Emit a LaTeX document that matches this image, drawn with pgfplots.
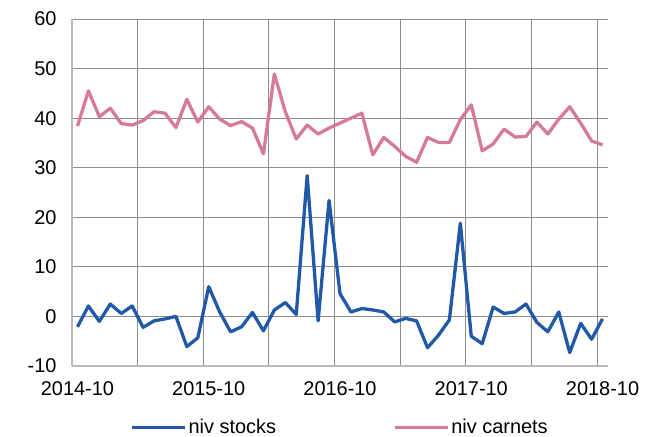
\documentclass[border=0pt]{standalone}
\usepackage{pgfplots}
\pgfplotsset{compat=1.18}
\usepackage{fontspec}
\setmainfont{Liberation Sans}
\definecolor{stockblue}{RGB}{33,89,166}
\definecolor{carnetpink}{RGB}{214,122,153}
\definecolor{gridgray}{RGB}{140,140,140}
\definecolor{axisgray}{RGB}{185,185,185}
\begin{document}
\begin{tikzpicture}
\path[use as bounding box] (-72bp,-71bp) rectangle (580bp,366bp);
\begin{axis}[
  at={(0,0)}, anchor=south west,
  scale only axis,
  width=536bp, height=347bp,
  xmin=-0.5, xmax=48.5,
  ymin=-10, ymax=60,
  xtick={0,12,24,36,48},
  xticklabels={2014-10,2015-10,2016-10,2017-10,2018-10},
  minor xtick={-0.5,5.5,11.5,17.5,23.5,29.5,35.5,41.5,47.5},
  ytick={-10,0,10,20,30,40,50,60},
  yticklabels={-10,0,10,20,30,40,50,60},
  xminorgrids=true, ymajorgrids=true, xmajorgrids=false,
  grid style={gridgray, line width=1bp},
  minor grid style={gridgray, line width=1bp},
  major tick length=0pt, minor tick length=0pt,
  axis x line*=bottom, axis y line*=left,
  axis line style={axisgray, line width=1.2bp, -},
  ticklabel style={font=\fontsize{20}{24}\selectfont, text=black},
  xticklabel style={yshift=-12bp},
  yticklabel style={xshift=-12bp},
  legend columns=2,
  legend style={at={(0.5,0)}, anchor=north, yshift=-51bp, draw=none, fill=none,
    font=\fontsize{20}{24}\selectfont,
    /tikz/every even column/.append style={column sep=115bp},
    inner sep=0pt},
  legend image code/.code={\draw[#1] (0bp,0bp) -- (53bp,0bp);},
]
\addplot[stockblue, line width=3.3bp, line join=round] coordinates {
(0,-2.1)(1,2.1)(2,-1.0)(3,2.5)(4,0.6)(5,2.1)(6,-2.2)(7,-0.9)(8,-0.5)(9,0.0)
(10,-6.1)(11,-4.3)(12,6.0)(13,0.9)(14,-3.1)(15,-2.1)(16,0.8)(17,-2.9)(18,1.3)(19,2.8)
(20,0.4)(21,28.4)(22,-0.9)(23,23.4)(24,4.6)(25,0.9)(26,1.6)(27,1.3)(28,0.9)(29,-1.1)
(30,-0.4)(31,-0.9)(32,-6.3)(33,-3.8)(34,-0.7)(35,18.8)(36,-4.0)(37,-5.5)(38,1.9)(39,0.6)
(40,0.9)(41,2.5)(42,-1.2)(43,-3.1)(44,0.9)(45,-7.3)(46,-1.4)(47,-4.6)(48,-0.5)
};
\addlegendentry{niv stocks}
\addplot[carnetpink, line width=3.3bp, line join=round] coordinates {
(0,38.4)(1,45.5)(2,40.3)(3,42.0)(4,38.9)(5,38.6)(6,39.5)(7,41.3)(8,41.0)(9,38.1)
(10,43.8)(11,39.2)(12,42.3)(13,39.8)(14,38.5)(15,39.3)(16,38.0)(17,32.8)(18,48.9)(19,41.3)
(20,35.8)(21,38.6)(22,36.8)(23,38.0)(24,39.0)(25,40.0)(26,41.0)(27,32.6)(28,36.1)(29,34.3)
(30,32.3)(31,31.1)(32,36.1)(33,35.1)(34,35.1)(35,39.7)(36,42.7)(37,33.4)(38,34.8)(39,37.8)
(40,36.2)(41,36.3)(42,39.2)(43,36.8)(44,39.8)(45,42.3)(46,39.0)(47,35.4)(48,34.6)
};
\addlegendentry{niv carnets}
\end{axis}
\end{tikzpicture}
\end{document}
